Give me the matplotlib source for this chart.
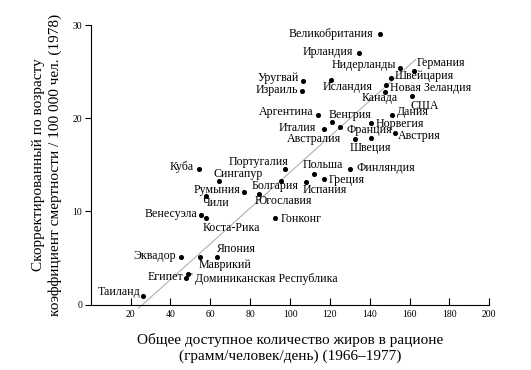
import matplotlib
matplotlib.use("Agg")
import matplotlib.pyplot as plt

plt.rcParams['font.family'] = ['Liberation Serif', 'DejaVu Serif']

countries = ['Великобритания', 'Ирландия', 'Нидерланды', 'Германия', 'Швейцария',
             'Уругвай', 'Израиль', 'Исландия', 'Новая Зеландия', 'Канада',
             'США', 'Аргентина', 'Венгрия', 'Дания', 'Норвегия',
             'Италия', 'Франция', 'Австралия', 'Австрия', 'Швеция',
             'Куба', 'Португалия', 'Сингапур', 'Польша', 'Финляндия',
             'Румыния', 'Болгария', 'Греция', 'Испания', 'Чили',
             'Югославия', 'Венесуэла', 'Коста-Рика', 'Гонконг', 'Эквадор',
             'Япония', 'Маврикий', 'Египет', 'Доминиканская Республика', 'Таиланд']
fat = [145.0, 134.7, 155.2, 162.2, 150.5,
       106.3, 105.8, 120.5, 148.3, 147.7,
       161.3, 113.8, 121.3, 151.3, 140.5,
       117.2, 125.2, 132.7, 152.7, 140.5,
       54.3, 97.5, 64.2, 112.2, 130.2,
       76.7, 95.5, 117.2, 108.0, 57.7,
       84.3, 55.5, 57.7, 92.7, 45.2,
       63.3, 54.7, 48.0, 48.8, 26.3]
mortality = [29.0, 27.0, 25.4, 25.1, 24.3,
             24.0, 22.9, 24.1, 23.6, 22.8,
             22.4, 20.4, 19.6, 20.3, 19.5,
             18.8, 19.1, 17.8, 18.4, 17.9,
             14.6, 14.5, 13.3, 14.0, 14.5,
             12.1, 13.3, 13.5, 13.2, 11.7,
             11.9, 9.6, 9.3, 9.3, 5.1,
             5.1, 5.1, 2.9, 3.3, 0.9]

trend_x = [24, 163]
trend_y = [-0.4, 26.3]

# label placement: (ha, dx, dy) in pixels
place = {
    'Великобритания': ('right', -6, 0), 'Ирландия': ('right', -6, 1),
    'Нидерланды': ('right', -4, 3), 'Германия': ('left', 3, 8),
    'Швейцария': ('left', 4, 2), 'Уругвай': ('right', -4, 3),
    'Израиль': ('right', -3, 1), 'Исландия': ('left', -8, -7),
    'Новая Зеландия': ('left', 4, -3), 'Канада': ('right', 13, -6),
    'США': ('left', -2, -10), 'Аргентина': ('right', -4, 3),
    'Венгрия': ('left', -4, 7), 'Дания': ('left', 5, 3),
    'Норвегия': ('left', 5, -1), 'Италия': ('right', -8, 1),
    'Франция': ('left', 6, -3), 'Австралия': ('right', -14, 0),
    'Австрия': ('left', 3, -3), 'Швеция': ('center', 0, -10),
    'Куба': ('right', -5, 2), 'Португалия': ('right', 3, 7),
    'Сингапур': ('left', -5, 7), 'Польша': ('center', 8, 9),
    'Финляндия': ('left', 6, 1), 'Румыния': ('right', -3, 2),
    'Болгария': ('center', -6, -5), 'Греция': ('left', 4, -1),
    'Испания': ('left', -3, -8), 'Чили': ('left', -3, -7),
    'Югославия': ('left', -4, -7), 'Венесуэла': ('right', -4, 1),
    'Коста-Рика': ('left', -3, -10), 'Гонконг': ('left', 5, -1),
    'Эквадор': ('right', -5, 1), 'Япония': ('left', -1, 8),
    'Маврикий': ('left', -1, -8), 'Египет': ('right', -3, 1),
    'Доминиканская Республика': ('left', 7, -5), 'Таиланд': ('right', -3, 4),
}

fig = plt.figure(figsize=(5.31, 3.70), dpi=100)
ax = fig.add_axes([0.1708, 0.177, 0.7507, 0.755])

ax.plot(trend_x, trend_y, color='#b0b0b0', lw=0.8, clip_on=False, zorder=1)
ax.scatter(fat, mortality, s=7, color='black', zorder=3, clip_on=False)

for name, x, y in zip(countries, fat, mortality):
    ha, dx, dy = place[name]
    if name == 'Доминиканская Республика':
        ax.annotate(name, (x, y), xytext=(dx, dy), textcoords='offset pixels',
                    ha=ha, va='center', fontsize=8.6,
                    arrowprops=dict(arrowstyle='-', color='black', lw=0.7,
                                    shrinkA=0, shrinkB=0))
    else:
        ax.annotate(name, (x, y), xytext=(dx, dy), textcoords='offset pixels',
                    ha=ha, va='center', fontsize=8.6)

ax.set_xlim(0, 200)
ax.set_ylim(0, 30)
ax.set_xticks(range(20, 201, 20))
ax.set_yticks([0, 10, 20, 30])
ax.spines['top'].set_visible(False)
ax.spines['right'].set_visible(False)
ax.tick_params(axis='x', direction='in', length=5, width=0.8, pad=4, labelsize=7)
ax.tick_params(axis='y', direction='out', length=4, width=0.8, pad=2, labelsize=7)

fig.text(0.0885, 0.554, 'Скорректированный по возрасту\nкоэффициент смертности / 100 000 чел. (1978)',
         rotation=90, ha='center', va='center', fontsize=11, linespacing=1.3)
fig.text(0.546, 0.0595, 'Общее доступное количество жиров в рационе\n(грамм/человек/день) (1966–1977)',
         ha='center', va='center', fontsize=11, linespacing=1.3)

fig.savefig('out.png', dpi=100)
